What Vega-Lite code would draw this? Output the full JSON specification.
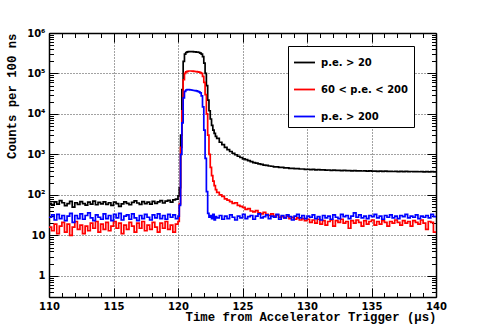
{
"$schema": "https://vega.github.io/schema/vega-lite/v6.json",
"width": 387, "height": 264,
"autosize": "none",
"padding": {"left": 49, "top": 33, "right": 49, "bottom": 33},
"background": "white",
"config": {
 "view": {"stroke": null},
 "axis": {"domainColor": "black", "domainWidth": 1.5, "tickColor": "black", "tickWidth": 1,
  "labelFont": "DejaVu Sans", "labelFontWeight": "bold", "labelFontSize": 10, "labelColor": "black",
  "labelFlush": false, "labelOverlap": false,
  "titleFont": "Liberation Mono", "titleFontWeight": "bold", "titleFontSize": 12.3, "titleColor": "black"},
 "legend": {"orient": "none", "legendX": 239, "legendY": 13, "strokeColor": "black", "fillColor": "white",
  "padding": 5, "symbolType": "stroke", "symbolSize": 440, "symbolStrokeWidth": 1.8,
  "labelFont": "DejaVu Sans", "labelFontWeight": "bold", "labelFontSize": 10, "labelColor": "black",
  "labelOffset": 5, "rowPadding": 10, "cornerRadius": 0}
},
"data": {"values": [
{"t":110.0,"k":62,"r":16,"b":28},{"t":110.2,"k":56,"r":13,"b":32},{"t":110.4,"k":67,"r":19,"b":24},{"t":110.6,"k":59,"r":11,"b":33},{"t":110.8,"k":72,"r":17,"b":26},
{"t":111.0,"k":64,"r":21,"b":31},{"t":111.2,"k":54,"r":12,"b":23},{"t":111.4,"k":61,"r":19,"b":30},{"t":111.6,"k":69,"r":10,"b":35},{"t":111.8,"k":50,"r":16,"b":21},
{"t":112.0,"k":64,"r":22,"b":31},{"t":112.2,"k":58,"r":14,"b":26},{"t":112.4,"k":68,"r":18,"b":34},{"t":112.6,"k":61,"r":11,"b":25},{"t":112.8,"k":56,"r":17,"b":31},
{"t":113.0,"k":66,"r":13,"b":36},{"t":113.2,"k":59,"r":20,"b":27},{"t":113.4,"k":70,"r":15,"b":23},{"t":113.6,"k":57,"r":22,"b":32},{"t":113.8,"k":65,"r":12,"b":28},
{"t":114.0,"k":60,"r":19,"b":25},{"t":114.2,"k":67,"r":14,"b":34},{"t":114.4,"k":58,"r":21,"b":26},{"t":114.6,"k":64,"r":13,"b":31},{"t":114.8,"k":55,"r":17,"b":23},
{"t":115.0,"k":66,"r":22,"b":33},{"t":115.2,"k":61,"r":15,"b":27},{"t":115.4,"k":52,"r":20,"b":35},{"t":115.6,"k":60,"r":11,"b":24},{"t":115.8,"k":67,"r":18,"b":30},
{"t":116.0,"k":62,"r":14,"b":32},{"t":116.2,"k":57,"r":21,"b":25},{"t":116.4,"k":65,"r":17,"b":34},{"t":116.6,"k":71,"r":12,"b":27},{"t":116.8,"k":63,"r":20,"b":23},
{"t":117.0,"k":58,"r":15,"b":31},{"t":117.2,"k":68,"r":22,"b":26},{"t":117.4,"k":61,"r":13,"b":33},{"t":117.6,"k":66,"r":18,"b":28},{"t":117.8,"k":59,"r":14,"b":24},
{"t":118.0,"k":69,"r":21,"b":32},{"t":118.2,"k":62,"r":16,"b":27},{"t":118.4,"k":67,"r":12,"b":34},{"t":118.6,"k":72,"r":20,"b":26},{"t":118.8,"k":63,"r":15,"b":31},
{"t":119.0,"k":70,"r":22,"b":25},{"t":119.2,"k":73,"r":14,"b":33},{"t":119.4,"k":66,"r":18,"b":28},{"t":119.6,"k":75,"r":12,"b":32},{"t":119.8,"k":79,"r":19,"b":26},
{"t":120.0,"k":95,"r":22,"b":30},{"t":120.1,"k":150,"r":60,"b":55},{"t":120.2,"k":3000,"r":1500,"b":1000},{"t":120.3,"k":40000,"r":12000,"b":6000},{"t":120.4,"k":200000,"r":70000,"b":25000},
{"t":120.5,"k":300000,"r":100000,"b":36000},{"t":120.6,"k":330000,"r":110000,"b":39000},{"t":120.7,"k":340000,"r":113000,"b":40000},{"t":120.8,"k":345000,"r":115000,"b":40000},{"t":120.9,"k":345000,"r":115000,"b":39500},
{"t":121.0,"k":345000,"r":115000,"b":39000},{"t":121.1,"k":345000,"r":114000,"b":38500},{"t":121.2,"k":342000,"r":113000,"b":38000},{"t":121.3,"k":340000,"r":112000,"b":37500},{"t":121.4,"k":338000,"r":111000,"b":37000},
{"t":121.5,"k":335000,"r":110000,"b":36000},{"t":121.6,"k":330000,"r":108000,"b":35000},{"t":121.7,"k":320000,"r":105000,"b":33000},{"t":121.8,"k":300000,"r":100000,"b":28000},{"t":121.9,"k":260000,"r":85000,"b":15000},
{"t":122.0,"k":180000,"r":60000,"b":4000},{"t":122.1,"k":100000,"r":30000,"b":800},{"t":122.2,"k":50000,"r":10000,"b":120},{"t":122.3,"k":22000,"r":3000,"b":35},{"t":122.4,"k":12000,"r":1000,"b":28},
{"t":122.5,"k":7500,"r":480,"b":31},{"t":122.6,"k":5200,"r":300,"b":26},{"t":122.7,"k":4000,"r":220,"b":33},{"t":122.8,"k":3300,"r":170,"b":24},{"t":122.9,"k":2800,"r":135,"b":29},
{"t":123.0,"k":2500,"r":115,"b":27},{"t":123.2,"k":2000,"r":100,"b":31},{"t":123.4,"k":1750,"r":92,"b":25},{"t":123.6,"k":1500,"r":80,"b":30},{"t":123.8,"k":1320,"r":74,"b":26},
{"t":124.0,"k":1180,"r":68,"b":32},{"t":124.2,"k":1070,"r":62,"b":28},{"t":124.4,"k":980,"r":64,"b":24},{"t":124.6,"k":900,"r":55,"b":30},{"t":124.8,"k":840,"r":52,"b":27},
{"t":125.0,"k":780,"r":49,"b":33},{"t":125.2,"k":745,"r":44,"b":26},{"t":125.4,"k":700,"r":46,"b":29},{"t":125.6,"k":665,"r":40,"b":31},{"t":125.8,"k":630,"r":38,"b":25},
{"t":126.0,"k":608,"r":41,"b":30},{"t":126.2,"k":582,"r":36,"b":34},{"t":126.4,"k":568,"r":34,"b":27},{"t":126.6,"k":545,"r":37,"b":29},{"t":126.8,"k":535,"r":33,"b":32},
{"t":127.0,"k":518,"r":31,"b":26},{"t":127.2,"k":510,"r":34,"b":30},{"t":127.4,"k":495,"r":30,"b":28},{"t":127.6,"k":492,"r":32,"b":33},{"t":127.8,"k":480,"r":28,"b":25},
{"t":128.0,"k":476,"r":29,"b":31},{"t":128.2,"k":466,"r":27,"b":27},{"t":128.4,"k":464,"r":30,"b":32},{"t":128.6,"k":453,"r":26,"b":29},{"t":128.8,"k":453,"r":28,"b":24},
{"t":129.0,"k":444,"r":25,"b":30},{"t":129.2,"k":445,"r":27,"b":33},{"t":129.4,"k":436,"r":24,"b":27},{"t":129.6,"k":436,"r":26,"b":31},{"t":129.8,"k":429,"r":23,"b":26},
{"t":130.0,"k":430,"r":25,"b":30},{"t":130.2,"k":422,"r":21,"b":28},{"t":130.4,"k":425,"r":24,"b":32},{"t":130.6,"k":417,"r":20,"b":26},{"t":130.8,"k":420,"r":25,"b":29},
{"t":131.0,"k":414,"r":19,"b":24},{"t":131.2,"k":416,"r":23,"b":31},{"t":131.4,"k":409,"r":18,"b":27},{"t":131.6,"k":412,"r":22,"b":30},{"t":131.8,"k":405,"r":24,"b":25},
{"t":132.0,"k":408,"r":17,"b":32},{"t":132.2,"k":402,"r":23,"b":28},{"t":132.4,"k":405,"r":21,"b":26},{"t":132.6,"k":399,"r":25,"b":33},{"t":132.8,"k":402,"r":20,"b":29},
{"t":133.0,"k":396,"r":22,"b":31},{"t":133.2,"k":399,"r":15,"b":26},{"t":133.4,"k":394,"r":23,"b":30},{"t":133.6,"k":397,"r":20,"b":36},{"t":133.8,"k":391,"r":24,"b":28},
{"t":134.0,"k":394,"r":21,"b":32},{"t":134.2,"k":389,"r":17,"b":27},{"t":134.4,"k":392,"r":23,"b":30},{"t":134.6,"k":387,"r":19,"b":26},{"t":134.8,"k":390,"r":22,"b":31},
{"t":135.0,"k":385,"r":24,"b":29},{"t":135.2,"k":388,"r":18,"b":33},{"t":135.4,"k":383,"r":22,"b":27},{"t":135.6,"k":386,"r":19,"b":30},{"t":135.8,"k":381,"r":23,"b":25},
{"t":136.0,"k":385,"r":21,"b":31},{"t":136.2,"k":380,"r":17,"b":28},{"t":136.4,"k":383,"r":22,"b":32},{"t":136.6,"k":378,"r":20,"b":27},{"t":136.8,"k":382,"r":24,"b":30},
{"t":137.0,"k":377,"r":21,"b":26},{"t":137.2,"k":380,"r":18,"b":31},{"t":137.4,"k":376,"r":23,"b":29},{"t":137.6,"k":379,"r":20,"b":33},{"t":137.8,"k":375,"r":22,"b":27},
{"t":138.0,"k":378,"r":17,"b":30},{"t":138.2,"k":374,"r":23,"b":28},{"t":138.4,"k":377,"r":21,"b":32},{"t":138.6,"k":373,"r":19,"b":26},{"t":138.8,"k":376,"r":24,"b":30},
{"t":139.0,"k":372,"r":20,"b":28},{"t":139.2,"k":375,"r":14,"b":31},{"t":139.4,"k":371,"r":22,"b":27},{"t":139.6,"k":374,"r":21,"b":33},{"t":139.8,"k":370,"r":12,"b":29},
{"t":140.0,"k":370,"r":12,"b":29}
]},
"layer": [
 {"mark": {"type": "line", "interpolate": "step-after", "strokeWidth": 1.7, "clip": true},
  "encoding": {
   "x": {"field": "t", "type": "quantitative", "scale": {"domain": [110, 140], "nice": false, "zero": false},
    "axis": {"orient": "bottom", "values": [110,111,112,113,114,115,116,117,118,119,120,121,122,123,124,125,126,127,128,129,130,131,132,133,134,135,136,137,138,139,140],
     "tickSize": {"condition": {"test": "datum.value % 5 === 0", "value": -9}, "value": -4.5},
     "labelExpr": "datum.value % 5 === 0 ? datum.label : ''", "labelPadding": 13,
     "grid": true, "gridColor": "#444", "gridDash": [1, 2], "gridWidth": 1,
     "gridOpacity": {"condition": {"test": "datum.value % 5 === 0", "value": 1}, "value": 0},
     "title": "Time from Accelerator Trigger (μs)", "titleAnchor": "end", "titlePadding": -5}},
   "y": {"field": "k", "type": "quantitative", "scale": {"type": "log", "domain": [0.3, 1000000], "nice": false},
    "axis": {"orient": "left", "values": [0.3,0.4,0.5,0.6,0.7,0.8,0.9,1,2,3,4,5,6,7,8,9,10,20,30,40,50,60,70,80,90,100,200,300,400,500,600,700,800,900,1000,2000,3000,4000,5000,6000,7000,8000,9000,10000,20000,30000,40000,50000,60000,70000,80000,90000,100000,200000,300000,400000,500000,600000,700000,800000,900000,1000000],
     "tickSize": {"condition": {"test": "indexof([1,10,100,1000,10000,100000,1000000], datum.value) >= 0", "value": -9}, "value": -4.5},
     "labelExpr": "datum.value == 1 ? '1' : datum.value == 10 ? '10' : datum.value == 100 ? '10²' : datum.value == 1000 ? '10³' : datum.value == 10000 ? '10⁴' : datum.value == 100000 ? '10⁵' : datum.value == 1000000 ? '10⁶' : ''",
     "labelPadding": 13,
     "grid": true, "gridColor": "#444", "gridDash": [1, 2], "gridWidth": 1,
     "gridOpacity": {"condition": {"test": "indexof([1,10,100,1000,10000,100000,1000000], datum.value) >= 0", "value": 1}, "value": 0},
     "title": "Counts per 100 ns", "titleAnchor": "end", "titlePadding": 8}},
   "color": {"datum": "p.e. > 20", "type": "nominal", "scale": {"domain": ["p.e. > 20", "60 < p.e. < 200", "p.e. > 200"], "range": ["#000000", "#ff0000", "#0000ff"]}, "legend": {"title": null}}
  }},
 {"mark": {"type": "line", "interpolate": "step-after", "strokeWidth": 1.7, "clip": true},
  "encoding": {
   "x": {"field": "t", "type": "quantitative", "scale": {"domain": [110, 140], "nice": false, "zero": false},
    "axis": {"orient": "top", "values": [110,111,112,113,114,115,116,117,118,119,120,121,122,123,124,125,126,127,128,129,130,131,132,133,134,135,136,137,138,139,140],
     "tickSize": {"condition": {"test": "datum.value % 5 === 0", "value": -9}, "value": -4.5},
     "labels": false, "grid": false, "title": null}},
   "y": {"field": "r", "type": "quantitative", "scale": {"type": "log", "domain": [0.3, 1000000], "nice": false},
    "axis": {"orient": "right", "values": [0.3,0.4,0.5,0.6,0.7,0.8,0.9,1,2,3,4,5,6,7,8,9,10,20,30,40,50,60,70,80,90,100,200,300,400,500,600,700,800,900,1000,2000,3000,4000,5000,6000,7000,8000,9000,10000,20000,30000,40000,50000,60000,70000,80000,90000,100000,200000,300000,400000,500000,600000,700000,800000,900000,1000000],
     "tickSize": {"condition": {"test": "indexof([1,10,100,1000,10000,100000,1000000], datum.value) >= 0", "value": -9}, "value": -4.5},
     "labels": false, "grid": false, "title": null}},
   "color": {"datum": "60 < p.e. < 200", "type": "nominal", "scale": {"domain": ["p.e. > 20", "60 < p.e. < 200", "p.e. > 200"], "range": ["#000000", "#ff0000", "#0000ff"]}, "legend": {"title": null}}
  }},
 {"mark": {"type": "line", "interpolate": "step-after", "strokeWidth": 1.7, "clip": true},
  "encoding": {
   "x": {"field": "t", "type": "quantitative", "scale": {"domain": [110, 140], "nice": false, "zero": false}, "axis": null},
   "y": {"field": "b", "type": "quantitative", "scale": {"type": "log", "domain": [0.3, 1000000], "nice": false}, "axis": null},
   "color": {"datum": "p.e. > 200", "type": "nominal", "scale": {"domain": ["p.e. > 20", "60 < p.e. < 200", "p.e. > 200"], "range": ["#000000", "#ff0000", "#0000ff"]}, "legend": {"title": null}}
  }}
],
"resolve": {"axis": {"x": "independent", "y": "independent"}}
}
